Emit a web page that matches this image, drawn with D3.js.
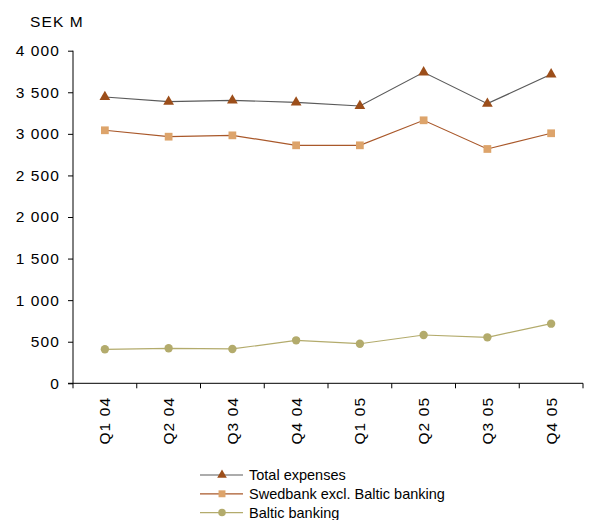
<!DOCTYPE html>
<html>
<head>
<meta charset="utf-8">
<script src="https://cdn.jsdelivr.net/npm/d3@7"></script>
<style>
  body { margin: 0; background: #fff; }
  svg { display: block; font-family: "Liberation Sans", Arial, sans-serif; }
  .axis-label { font-size: 15.5px; letter-spacing: 1.1px; fill: #000; }
</style>
</head>
<body>
<svg id="chart" width="592" height="520"></svg>
<script>
// Quarterly expenses, SEK M
const quarters = ["Q1 04", "Q2 04", "Q3 04", "Q4 04", "Q1 05", "Q2 05", "Q3 05", "Q4 05"];
const totalExpenses = [3443, 3387, 3403, 3379, 3335, 3740, 3363, 3716];
const swedbankExclBaltic = [3043, 2966, 2982, 2862, 2862, 3163, 2818, 3007];
const balticBanking = [409, 421, 413, 517, 476, 581, 553, 717];
const yTicks = [0, 500, 1000, 1500, 2000, 2500, 3000, 3500, 4000];

const seriesList = [
  { name: "Total expenses", values: totalExpenses, line: "#5a5a5a", marker: "#9c4e1a", shape: d3.symbolTriangle, size: 50 },
  { name: "Swedbank excl. Baltic banking", values: swedbankExclBaltic, line: "#a9582a", marker: "#dda46b", shape: d3.symbolSquare, size: 60 },
  { name: "Baltic banking", values: balticBanking, line: "#b3ab6c", marker: "#b3ab6c", shape: d3.symbolCircle, size: 55 }
];

const svg = d3.select("#chart");
const plotLeft = 73, plotRight = 583, plotTop = 50.7, plotBottom = 383.3;

const x = d3.scaleBand().domain(quarters).range([plotLeft, plotRight]);
const y = d3.scaleLinear().domain([0, 4000]).range([plotBottom, plotTop]);

const fmt = v => d3.format(",")(v).replace(/,/g, " ");

// y axis
const yAxis = svg.append("g")
  .attr("transform", `translate(${plotLeft},0)`)
  .call(d3.axisLeft(y).tickValues(yTicks).tickSize(5).tickPadding(8).tickFormat(fmt));
yAxis.attr("font-size", null).attr("font-family", null);
yAxis.selectAll("text").attr("class", "axis-label").attr("fill", null);
yAxis.selectAll("line, path").attr("stroke", "#000");
yAxis.select(".domain").attr("d", `M0,${plotBottom}V${plotTop}`);

// x axis with tick marks at band boundaries
const xg = svg.append("g").attr("transform", `translate(0,${plotBottom})`);
xg.append("line").attr("x1", plotLeft - 5).attr("x2", plotRight).attr("stroke", "#000");
const boundaries = quarters.map(q => x(q)).concat([plotRight]);
xg.selectAll("line.tk").data(boundaries).enter().append("line")
  .attr("class", "tk")
  .attr("x1", d => d).attr("x2", d => d)
  .attr("y1", 0).attr("y2", 5).attr("stroke", "#000");
xg.selectAll("text").data(quarters).enter().append("text")
  .attr("class", "axis-label")
  .attr("transform", d => `translate(${x(d) + x.bandwidth() / 2 + 5.5},13.5) rotate(-90)`)
  .attr("text-anchor", "end")
  .text(d => d);

// unit label
svg.append("text").attr("class", "axis-label").attr("x", 30).attr("y", 26.7).text("SEK M");

const cx = q => x(q) + x.bandwidth() / 2;
const line = d3.line().x((d, i) => cx(quarters[i])).y(d => y(d));

seriesList.forEach(s => {
  svg.append("path").datum(s.values)
    .attr("d", line).attr("fill", "none")
    .attr("stroke", s.line).attr("stroke-width", 1.2);
  svg.selectAll(null).data(s.values).enter().append("path")
    .attr("d", d3.symbol().type(s.shape).size(s.size))
    .attr("transform", (d, i) => `translate(${cx(quarters[i])},${y(d)})`)
    .attr("fill", s.marker);
});

// legend
const legend = svg.append("g");
seriesList.forEach((s, i) => {
  const ly = 475 + i * 18.8;
  legend.append("line").attr("x1", 200).attr("x2", 243).attr("y1", ly).attr("y2", ly)
    .attr("stroke", s.line).attr("stroke-width", 1.2);
  legend.append("path").attr("d", d3.symbol().type(s.shape).size(s.size * 0.8))
    .attr("transform", `translate(222,${ly})`).attr("fill", s.marker);
  legend.append("text").attr("x", 249).attr("y", ly + 5).attr("font-size", 14.5).text(s.name);
});
</script>
</body>
</html>
